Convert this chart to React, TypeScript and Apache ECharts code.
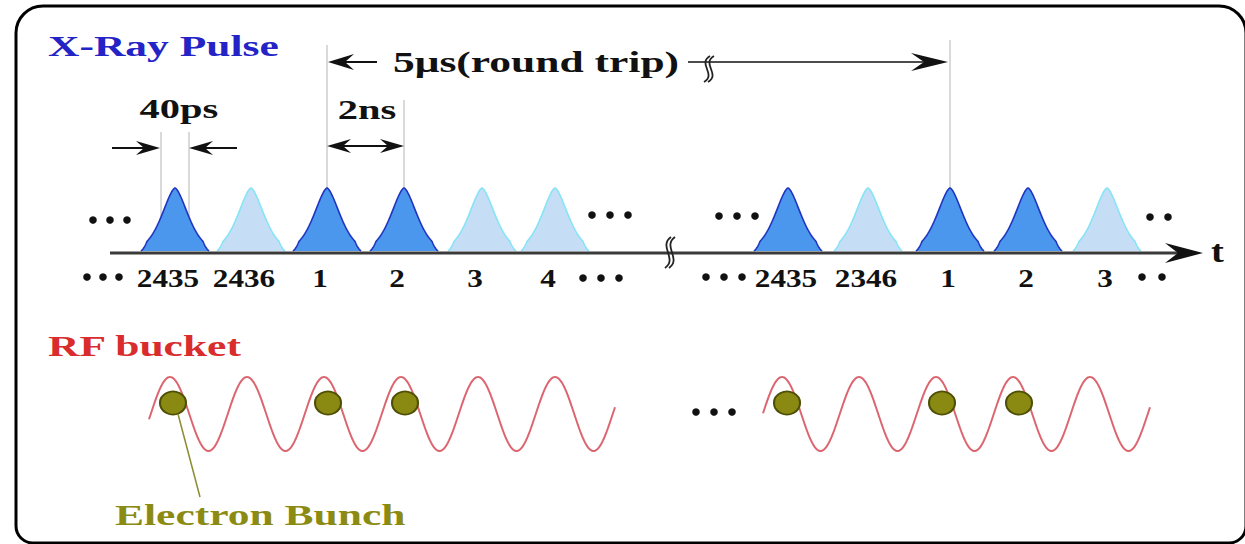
import React, { useEffect, useRef } from "react";
import * as echarts from "echarts";

// ---- data (diagram units: time along x, height along y) ----
const pulseX1 = [175, 251, 327, 404, 482, 555];
const pulseX2 = [788, 868, 950, 1028, 1107];
const pulseDark1 = [1, 0, 1, 1, 0, 0];
const pulseDark2 = [1, 0, 1, 1, 0];
const pulseLabels1 = ["2435", "2436", "1", "2", "3", "4"];
const pulseLabels2 = ["2435", "2346", "1", "2", "3"];

// RF bucket segments: [start, first crest, number of crests]
const rfStart = [149, 763];
const rfFirstCrest = [170, 782];
const rfCrests = [6, 5];
const rfPeriod = 77;

const bunchX = [173, 328, 405, 787, 942, 1019];
const bunchY = [403, 403, 403, 403, 403, 403];

const W = 1245;
const H = 544;
const SERIF = '"Liberation Serif", "Times New Roman", serif';
const BASE = 251; // pulse baseline
const AXIS_Y = 253;

type Pulse = { x: number; dark: number; label: string; group: number };
const pulses: Pulse[] = [
  ...pulseX1.map((x, i) => ({ x, dark: pulseDark1[i], label: pulseLabels1[i], group: 0 })),
  ...pulseX2.map((x, i) => ({ x, dark: pulseDark2[i], label: pulseLabels2[i], group: 1 })),
];

function txt(text: string, x: number, y: number, size: number, fill: string, align = "left", sx = 1.45, z = 20) {
  return {
    type: "text",
    x,
    y,
    scaleX: sx,
    z,
    style: {
      text,
      fill,
      fontSize: size,
      fontWeight: "bold",
      fontFamily: SERIF,
      align,
      verticalAlign: "middle",
      textAlign: align,
      textVerticalAlign: "middle",
    },
  };
}

function head(tipX: number, tipY: number, dir: number, len: number, half: number, notch: number) {
  return {
    type: "polygon",
    z: 15,
    shape: {
      points: [
        [tipX, tipY],
        [tipX - dir * len, tipY - half],
        [tipX - dir * (len - notch), tipY],
        [tipX - dir * len, tipY + half],
      ],
    },
    style: { fill: "#111" },
  };
}

function hline(x1: number, x2: number, y: number, w = 2, color = "#111") {
  return { type: "line", z: 14, shape: { x1, y1: y, x2, y2: y }, style: { stroke: color, lineWidth: w } };
}
function vline(x: number, y1: number, y2: number) {
  return { type: "line", z: 1, shape: { x1: x, y1, x2: x, y2 }, style: { stroke: "#b4b4b4", lineWidth: 1 } };
}
function squiggle(x: number, y1: number, y2: number) {
  const h = y2 - y1;
  const mk = (dx: number) => ({
    type: "bezierCurve",
    z: 16,
    shape: {
      x1: x + dx + 3, y1,
      cpx1: x + dx - 10, cpy1: y1 + h * 0.3,
      cpx2: x + dx + 10, cpy2: y1 + h * 0.7,
      x2: x + dx - 3, y2,
    },
    style: { stroke: "#222", lineWidth: 1.8, fill: "none" },
  });
  return [mk(0), mk(4)];
}
function dots(x0: number, y: number, n: number, gap = 17) {
  const out: any[] = [];
  for (let i = 0; i < n; i++) {
    out.push({ type: "circle", z: 15, shape: { cx: x0 + i * gap, cy: y, r: 3.8 }, style: { fill: "#111" } });
  }
  return out;
}

export default function App() {
  const ref = useRef<HTMLDivElement>(null);
  useEffect(() => {
    const chart = echarts.init(ref.current!, null, { renderer: "svg" });
    const amp = 63;
    const s = 18.9;
    const option: any = {
      animation: false,
      backgroundColor: "#ffffff",
      grid: { left: 0, right: 0, top: 0, bottom: 0 },
      xAxis: { type: "value", min: 0, max: W, show: false },
      yAxis: { type: "value", min: 0, max: H, inverse: true, show: false },
      series: [
        {
          type: "custom",
          name: "X-Ray Pulse",
          z: 3,
          data: pulses.map((p) => [p.x, p.dark]),
          renderItem: (params: any, api: any) => {
            const cx = api.value(0);
            const dark = api.value(1) === 1;
            const pts: number[][] = [];
            for (let dx = -34; dx <= 34; dx += 1) {
              const a = Math.abs(dx);
              let f = Math.exp(-Math.pow(a / s, 1.6));
              if (a > 28) f *= (34 - a) / 6;
              pts.push(api.coord([cx + dx, BASE - amp * f]));
            }
            const p = pulses[params.dataIndex];
            const lp = api.coord([cx - (p.group === 0 ? 7 : 2), 278]);
            return {
              type: "group",
              children: [
                {
                  type: "polyline",
                  shape: { points: pts },
                  style: {
                    fill: dark ? "#4b97ee" : "#c6ddf6",
                    stroke: dark ? "#2036c0" : "#86e4f6",
                    lineWidth: 1.6,
                  },
                },
                {
                  type: "text",
                  x: lp[0],
                  y: lp[1],
                  scaleX: 1.2,
                  style: {
                    text: p.label,
                    fill: "#111",
                    fontSize: 26,
                    fontWeight: "bold",
                    fontFamily: SERIF,
                    align: "center",
                    verticalAlign: "middle",
                    textAlign: "center",
                    textVerticalAlign: "middle",
                  },
                },
              ],
            };
          },
        },
        {
          type: "custom",
          name: "RF bucket",
          z: 3,
          data: rfStart.map((st, i) => [st, rfFirstCrest[i], rfCrests[i]]),
          renderItem: (params: any, api: any) => {
            const st = api.value(0);
            const c = api.value(1);
            const n = api.value(2);
            const e = c + (n - 1) * rfPeriod + 60;
            const pts: number[][] = [];
            for (let x = st; x <= e; x += 1) {
              pts.push(api.coord([x, 414 - 37 * Math.cos((2 * Math.PI * (x - c)) / rfPeriod)]));
            }
            return {
              type: "polyline",
              shape: { points: pts },
              style: { stroke: "#dc6670", lineWidth: 2, fill: "none" },
            };
          },
        },
        {
          type: "scatter",
          name: "Electron Bunch",
          z: 5,
          symbol: "circle",
          symbolSize: [26, 23],
          itemStyle: { color: "#8a8a12", borderColor: "#4f5006", borderWidth: 2, opacity: 1 },
          data: bunchX.map((x, i) => [x, bunchY[i]]),
        },
      ],
      graphic: [
        {
          type: "rect",
          z: 30,
          shape: { x: 16, y: 6, width: 1230, height: 537, r: [27, 27, 17, 17] },
          style: { fill: "none", stroke: "#000", lineWidth: 3 },
        },
        txt("X-Ray Pulse", 48, 46, 30, "#2424c6"),
        txt("RF bucket", 48, 346, 30, "#d92c2c"),
        txt("Electron Bunch", 115, 515, 30, "#8b8b14"),
        txt("40ps", 179, 109, 27, "#111", "center", 1.5),
        txt("2ns", 367, 110, 27, "#111", "center", 1.5),
        txt("5\u03bcs(round trip)", 393, 62, 30, "#111", "left", 1.45),
        txt("t", 1211, 252, 32, "#111", "left", 1.2),
        // guide lines
        vline(161, 132, 250),
        vline(189, 132, 250),
        vline(327, 45, 188),
        vline(404, 100, 188),
        vline(950, 40, 188),
        // 40ps arrows
        hline(112, 150, 148),
        head(160, 148, 1, 24, 7, 8),
        hline(197, 237, 148),
        head(189, 148, -1, 24, 7, 8),
        // 2ns
        hline(335, 396, 146),
        head(327, 146, -1, 24, 7, 8),
        head(404, 146, 1, 24, 7, 8),
        // round trip
        hline(338, 377, 62),
        head(328, 62, -1, 26, 8, 9),
        hline(688, 936, 62, 1.6),
        head(948, 62, 1, 37, 9, 13),
        ...squiggle(707, 56, 82),
        // time axis
        { type: "line", z: 14, shape: { x1: 110, y1: AXIS_Y, x2: 1180, y2: AXIS_Y }, style: { stroke: "#3a3a3a", lineWidth: 3 } },
        head(1203, AXIS_Y, 1, 38, 10, 13),
        ...squiggle(668, 237, 268),
        // ellipses
        ...dots(93, 220, 3),
        ...dots(87, 277, 3, 16),
        ...dots(592, 215, 3, 18),
        ...dots(583, 278, 3, 18),
        ...dots(719, 216, 3, 18),
        ...dots(706, 277, 3, 18),
        ...dots(1150, 217, 2, 18),
        ...dots(1142, 277, 2, 20),
        ...dots(696, 412, 3, 18),
        // leader line
        { type: "line", z: 6, shape: { x1: 178, y1: 414, x2: 200, y2: 497 }, style: { stroke: "#8b8b30", lineWidth: 1.5 } },
      ],
    };
    chart.setOption(option);
    return () => chart.dispose();
  }, []);
  return (
    <div
      ref={ref}
      style={{ position: "absolute", left: 0, top: 0, width: W, height: H, background: "#fff" }}
    />
  );
}
